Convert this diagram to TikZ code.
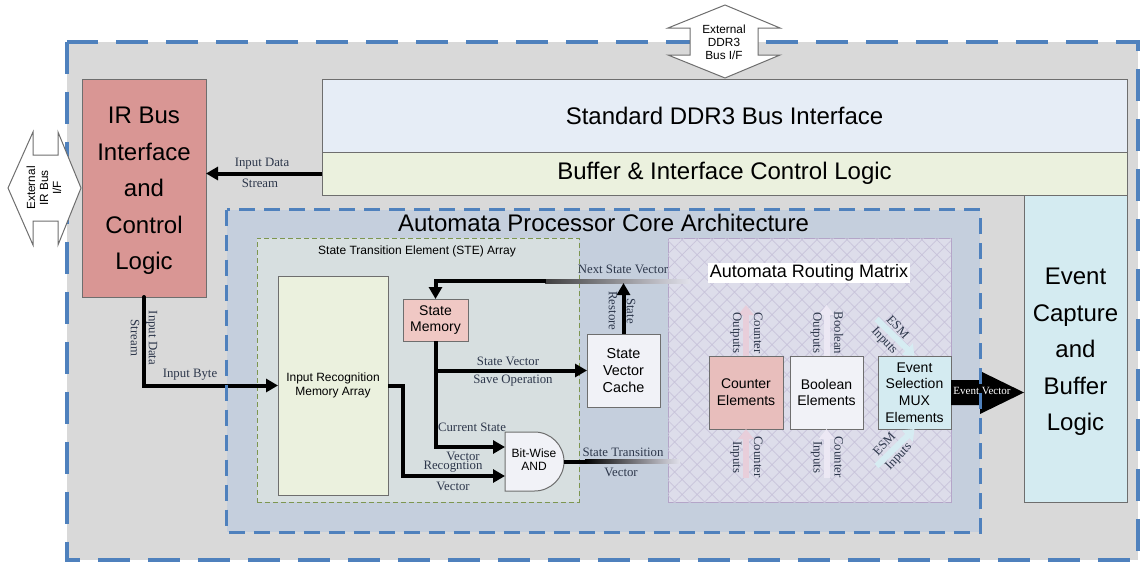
\documentclass[tikz,border=0pt]{standalone}
\usepackage{fontspec}
\setmainfont{Liberation Serif}
\setsansfont{Liberation Sans}
\usetikzlibrary{positioning}
\usetikzlibrary{arrows.meta}
\usetikzlibrary{patterns.meta}
\usetikzlibrary{calc}
\definecolor{dashblue}{RGB}{79,129,189}
\definecolor{chipgray}{RGB}{217,217,217}
\definecolor{boxline}{RGB}{110,110,110}
\definecolor{irred}{RGB}{217,150,148}
\definecolor{ddrblue}{RGB}{230,237,246}
\definecolor{bufgreen}{RGB}{235,241,222}
\definecolor{evcyan}{RGB}{212,235,241}
\definecolor{corefill}{RGB}{197,207,221}
\definecolor{stefill}{RGB}{215,223,224}
\definecolor{stedash}{RGB}{125,150,80}
\definecolor{smpink}{RGB}{240,200,196}
\definecolor{cntpink}{RGB}{232,190,188}
\definecolor{paleblock}{RGB}{241,242,247}
\definecolor{armfill}{RGB}{221,221,234}
\definecolor{armline}{RGB}{180,165,200}
\definecolor{armhatch}{RGB}{200,195,218}
\definecolor{lbltext}{RGB}{45,55,75}
\definecolor{palered}{RGB}{232,206,218}
\definecolor{palelav}{RGB}{236,232,244}
\definecolor{palecyan}{RGB}{214,236,242}
\definecolor{fadeend}{RGB}{225,225,235}
\tikzset{
	blk/.style={
		draw=boxline,
		line width=.5pt,
		inner sep=0pt,
		outer sep=0pt,
		align=center
	},
	bigtext/.style={font=\sffamily\fontsize{12}{18.3}\selectfont},
	midtext/.style={font=\sffamily\fontsize{12}{14}\selectfont},
	elemtext/.style={font=\sffamily\fontsize{7}{8.4}\selectfont},
	tinytext/.style={font=\sffamily\fontsize{6}{7.3}\selectfont, align=center},
	bustext/.style={font=\sffamily\fontsize{5.9}{6.5}\selectfont, align=center, inner sep=0pt},
	lbl/.style={font=\fontsize{6.4}{9}\selectfont, text=lbltext, align=center, inner sep=0pt},
	widelbl/.style={lbl, font=\fontsize{6.4}{10.5}\selectfont},
	dashbox/.style={draw=dashblue, line width=2pt, dash pattern=on 16pt off 9pt},
	coredash/.style={draw=dashblue, line width=1.5pt, dash pattern=on 8pt off 4.5pt},
	extbus/.style={draw=boxline, fill=white, line width=.5pt, line join=miter},
	flow/.style={line width=2pt, -{Triangle[length=6pt,width=6.5pt]}},
	paleflow/.style={line width=3pt, -{Triangle[length=5pt,width=7.5pt]}}
}
\begin{document}
\begin{tikzpicture}[x=0.5pt, y=-0.5pt]
	\useasboundingbox (0,0) rectangle (1140,562);

	% chip
	\node[fill=chipgray, inner sep=0pt, minimum width=535.5pt, minimum height=259pt] (chip) at (602.5,301) {};
	\draw[dashbox] (chip.north west) rectangle (chip.south east);

	% external interfaces
	\draw[extbus] (725,5) -- (780,28) -- (758,28) -- (758,55) -- (780,55) -- (725,78) -- (668,55) -- (690,55) -- (690,28) -- (668,28) -- cycle;
	\node[bustext] (ddrif) at (724,42) {External\\DDR3\\Bus I/F};
	\draw[extbus] (8,188) -- (33,132) -- (33,155) -- (58,155) -- (58,132) -- (81,188) -- (58,245) -- (58,221) -- (33,221) -- (33,245) -- cycle;
	\node[bustext, rotate=90] (irif) at (44,188) {External\\IR Bus\\I/F};

	\node[blk, fill=irred, minimum width=62pt, minimum height=109pt] (irbus) at (144,188) {};
	\node[bigtext, align=center, inner sep=0pt] (irtext) at (144,191) {IR Bus\\Interface\\and\\Control\\Logic};
	\node[blk, fill=ddrblue, midtext, minimum width=402.5pt, minimum height=36.5pt] (ddr) at (724.5,115.5) {Standard DDR3 Bus Interface};
	\node[blk, fill=bufgreen, midtext, minimum width=402.5pt, minimum height=21.5pt] (buf) at (724.5,173.5) {Buffer \& Interface Control Logic};
	\node[blk, fill=evcyan, minimum width=51.5pt, minimum height=153.5pt] (evcap) at (1075.5,348.5) {};
	\node[bigtext, align=center, inner sep=0pt] (evtext) at (1075.5,352) {Event\\Capture\\and\\Buffer\\Logic};

	% core
	\node[fill=corefill, inner sep=0pt, minimum width=376.5pt, minimum height=161pt] (core) at (603.5,371) {};
	\node[midtext] (coretitle) at (603.5,223) {Automata Processor Core Architecture};
	\node[draw=stedash, fill=stefill, line width=.5pt, dash pattern=on 2.5pt off 1.5pt, inner sep=0pt, minimum width=161pt, minimum height=132pt] (ste) at (418,370) {};
	\node[tinytext] (stetitle) at (417,251) {State Transition Element (STE) Array};

	\node[blk, fill=bufgreen, tinytext, minimum width=55pt, minimum height=109.5pt] (irma) at (333,385.5) {Input Recognition\\Memory Array};
	\node[blk, fill=smpink, elemtext, minimum width=32.5pt, minimum height=21pt] (smem) at (435.5,320) {State\\Memory};
	\node[blk, fill=paleblock, elemtext, font=\sffamily\fontsize{7.2}{8.6}\selectfont, minimum width=36.5pt, minimum height=36.5pt] (svc) at (623.5,370.5) {State\\Vector\\Cache};
	\node[inner sep=0pt, outer sep=0pt, minimum width=29.5pt, minimum height=29.5pt] (andg) at (534.5,461.5) {};
	\draw[draw=boxline, fill=paleblock, line width=.5pt] (andg.north west) -- (andg.north) arc[start angle=90, end angle=-90, radius=14.75pt] -- (andg.south west) -- cycle;
	\node[align=center, inner sep=0pt, font=\sffamily\fontsize{6}{6.6}\selectfont] (andtext) at (534,460) {Bit-Wise\\AND};

	% routing matrix
	\node[draw=armline, fill=armfill, line width=.5pt, inner sep=0pt, minimum width=141.5pt, minimum height=132pt,
		postaction={pattern={Hatch[angle=45,distance=5.3pt,line width=.35pt]}, pattern color=armhatch}] (arm) at (809.5,370) {};
	\node[fill=white, inner sep=1pt, font=\sffamily\fontsize{9}{10}\selectfont] (armtitle) at (809,273) {Automata Routing Matrix};
	\node[blk, fill=cntpink, elemtext, minimum width=37pt, minimum height=36.5pt] (cnt) at (746,392.5) {Counter\\Elements};
	\node[blk, fill=paleblock, elemtext, minimum width=36.5pt, minimum height=36.5pt] (bool) at (826.5,392.5) {Boolean\\Elements};
	\node[blk, fill=evcyan, elemtext, minimum width=36.5pt, minimum height=36.5pt] (esm) at (914.5,392.5) {Event\\Selection\\MUX\\Elements};

	\draw[paleflow, palered] (cnt.north) -- ++(0,-51);
	\draw[paleflow, palered] ($(cnt.south)+(0,49)$) -- (cnt.south);
	\draw[paleflow, palelav] (bool.north) -- ++(0,-51);
	\draw[paleflow, palelav] ($(bool.south)+(0,49)$) -- (bool.south);
	\draw[paleflow, palecyan] ($(esm.north)+(-38,-37)$) -- (esm.north);
	\draw[paleflow, palecyan] ($(esm.south)+(-38,37)$) -- (esm.south);
	\node[widelbl, rotate=-90] at (746.5,333) {Counter\\Outputs};
	\node[widelbl, rotate=-90] at (746.5,457) {Counter\\Inputs};
	\node[widelbl, rotate=-90] at (827,333) {Boolean\\Outputs};
	\node[widelbl, rotate=-90] at (827,457) {Counter\\Inputs};
	\node[lbl, rotate=-47] at (898,327) {ESM};
	\node[lbl, rotate=-47] at (884,341) {Inputs};
	\node[lbl, rotate=47] at (884,444) {ESM};
	\node[lbl, rotate=47] at (899,457) {Inputs};

	% data paths
	\draw[flow] (buf.west) -- (irbus.east |- buf.west);
	\node[lbl] at (262,164) {Input Data};
	\node[lbl] at (260,183) {Stream};
	\draw[flow, line cap=round] (irbus.south) |- (irma.west);
	\node[lbl, rotate=-90] at (144,338) {Input Data\\Stream};
	\node[lbl] at (190,375) {Input Byte};

	\coordinate (nsvend) at (690,281);
	\coordinate (nsvfade) at (545,281);
	\shade[left color=black!75, right color=fadeend] ($(nsvfade)+(0,-2)$) rectangle ($(nsvend)+(0,2)$);
	\draw[flow] ($(nsvfade)+(1,0)$) -| (smem.north);
	\node[lbl] at (623,269) {Next State Vector};
	\draw[flow] (svc.north) -- ($(svc.north |- nsvend)+(0,2)$);
	\node[lbl, rotate=-90] at (622,311) {State\\Restore};

	\draw[flow] (smem.south) |- ($(andg.west)+(0,-14.5)$);
	\draw[flow] (smem.south |- svc.west) -- (svc.west);
	\node[lbl] at (508,361) {State Vector};
	\node[lbl] at (513,381) {Save Operation};
	\node[lbl] at (472,427) {Current State};
	\node[lbl] at (463,456) {Vector};

	\draw[flow] (irma.east) -- ++(15,0) |- ($(andg.west)+(0,14.5)$);
	\node[lbl] at (453,467) {Recogntion};
	\node[lbl] at (453,486) {Vector};

	\coordinate (stvfade) at (585,461.5);
	\coordinate (stvend) at (680,461.5);
	\draw[line width=2pt] (andg.east) -- (stvfade);
	\shade[left color=black, right color=fadeend] ($(stvfade)+(0,-2)$) rectangle ($(stvend)+(0,2)$);
	\node[lbl] at (623,452) {State Transition};
	\node[lbl] at (621,472) {Vector};

	% event vector
	\fill[black] ($(esm.east)+(0,-12.5)$) -- ($(esm.east)+(29,-12.5)$) -- ($(esm.east)+(29,-21.5)$) -- (evcap.west |- esm.east)
		-- ($(esm.east)+(29,21.5)$) -- ($(esm.east)+(29,12.5)$) -- ($(esm.east)+(0,12.5)$) -- cycle;
	\node[font=\fontsize{5.5}{6}\selectfont, text=white, inner sep=0pt] (evvec) at (982,391) {Event Vector};

	\draw[coredash] (core.north west) rectangle (core.south east);
\end{tikzpicture}
\end{document}
